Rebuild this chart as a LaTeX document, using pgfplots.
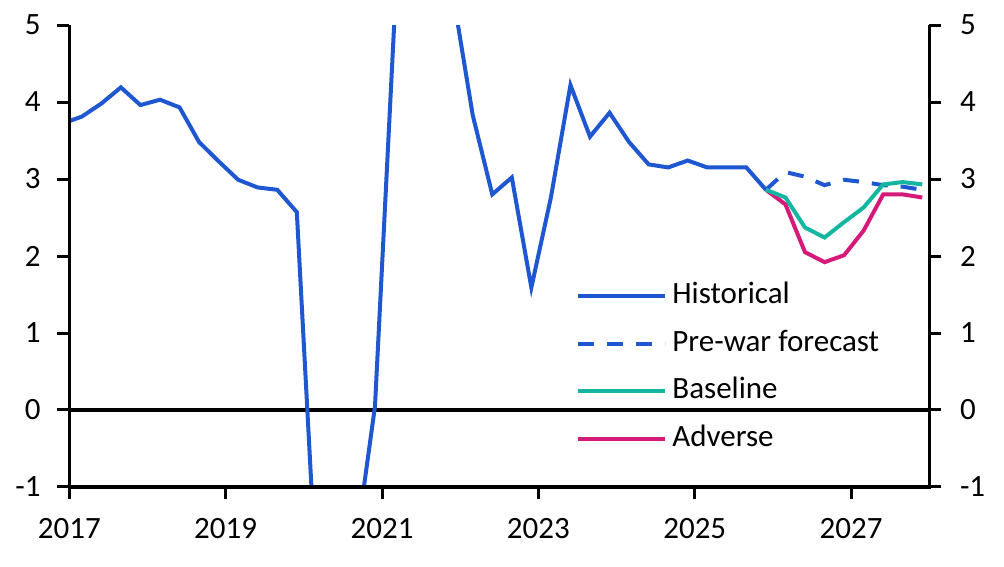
\documentclass[border=0pt]{standalone}
\usepackage{fontspec}
\setmainfont{Carlito}
\usepackage{pgfplots}
\pgfplotsset{compat=1.18}
\definecolor{histc}{RGB}{31,87,208}
\definecolor{basec}{RGB}{20,182,160}
\definecolor{advc}{RGB}{214,26,122}
\begin{document}
\fontsize{15.5bp}{18bp}\selectfont
\begin{tikzpicture}
\pgfplotsset{
  mybase/.style={
    scale only axis, width=430bp, height=231bp,
    xmin=2017, xmax=2028, ymin=-1, ymax=5,
    ytick={-1,0,...,5},
    xtick={2017,2019,2021,2023,2025,2027},
    xticklabels={2017,2019,2021,2023,2025,2027},
    tick align=outside, major tick length=6bp,
    xtick style={draw=black, line width=1.5bp},
    ytick style={draw=black, line width=1.5bp},
    /pgf/number format/assume math mode=true,
    ticklabel style={font=\fontsize{15.5bp}{18bp}\selectfont},
  }
}
\begin{axis}[mybase, at={(0,0)}, anchor=south west,
  axis line style={draw=none},
  xtick pos=bottom, ytick pos=both, yticklabel pos=left,
  xmajorticks=true,
  yticklabel style={xshift=-3bp},
  xticklabel style={yshift=-4.5bp},
  legend cell align=left,
  legend style={draw=none, fill=none, at={(0.5892,0.449)}, anchor=north west,
    inner sep=0pt, row sep=7.25bp,
    nodes={inner sep=1bp, inner xsep=2.5bp, text height=11bp, text depth=3.5bp},
    font=\fontsize{15.5bp}{18bp}\selectfont},
  legend image code/.code={\draw[#1] (0bp,0bp) -- (43.5bp,0bp);},
]
\addplot[forget plot, black, line width=2bp] coordinates {(2017,0) (2028,0)};
\addplot[histc, line width=2bp] coordinates {
(2016.91,3.72) (2017.16,3.81) (2017.41,3.98) (2017.66,4.19) (2017.91,3.96)
(2018.16,4.03) (2018.41,3.93) (2018.66,3.48) (2018.91,3.23) (2019.16,2.99)
(2019.41,2.89) (2019.66,2.86) (2019.91,2.57) (2020.16,-2.2) (2020.41,-3.0)
(2020.66,-1.8) (2020.91,0.05) (2021.16,5.1) (2021.41,6.5) (2021.66,6.3)
(2021.91,5.38) (2022.16,3.83) (2022.41,2.80) (2022.66,3.02) (2022.91,1.59)
(2023.16,2.76) (2023.41,4.22) (2023.66,3.55) (2023.91,3.86) (2024.16,3.48)
(2024.41,3.19) (2024.66,3.15) (2024.91,3.24) (2025.16,3.15) (2025.41,3.15)
(2025.66,3.15) (2025.91,2.86)};
\addlegendentry{Historical}
\addplot[histc, line width=2bp, dash pattern=on 8bp off 6.5bp] coordinates {
(2025.91,2.86) (2026.16,3.09) (2026.41,3.03) (2026.66,2.92) (2026.91,2.99)
(2027.16,2.96) (2027.41,2.92) (2027.66,2.90) (2027.91,2.86)};
\addlegendentry{Pre-war forecast}
\addplot[advc, line width=2bp, forget plot] coordinates {
(2025.91,2.86) (2026.16,2.67) (2026.41,2.05) (2026.66,1.92) (2026.91,2.01)
(2027.16,2.33) (2027.41,2.80) (2027.66,2.80) (2027.91,2.76)};
\addplot[basec, line width=2bp] coordinates {
(2025.91,2.86) (2026.16,2.76) (2026.41,2.37) (2026.66,2.24) (2026.91,2.44)
(2027.16,2.63) (2027.41,2.93) (2027.66,2.96) (2027.91,2.93)};
\addlegendentry{Baseline}
\addlegendimage{advc, line width=2bp}
\addlegendentry{Adverse}
\end{axis}
\begin{axis}[mybase, at={(0,0)}, anchor=south west,
  hide x axis, axis y line*=right, axis line style={draw=none},
  ytick style={draw=none},
  yticklabel style={xshift=4bp}]
\addplot[draw=none] coordinates {(2017,0)};
\end{axis}
\draw[black, line width=1.6bp] (0bp,231bp) -- (0bp,0bp) -- (430bp,0bp) -- (430bp,231bp);
\pgfresetboundingbox
\path (-34.65bp,-40bp) rectangle (467.35bp,243.5bp);
\end{tikzpicture}
\end{document}
